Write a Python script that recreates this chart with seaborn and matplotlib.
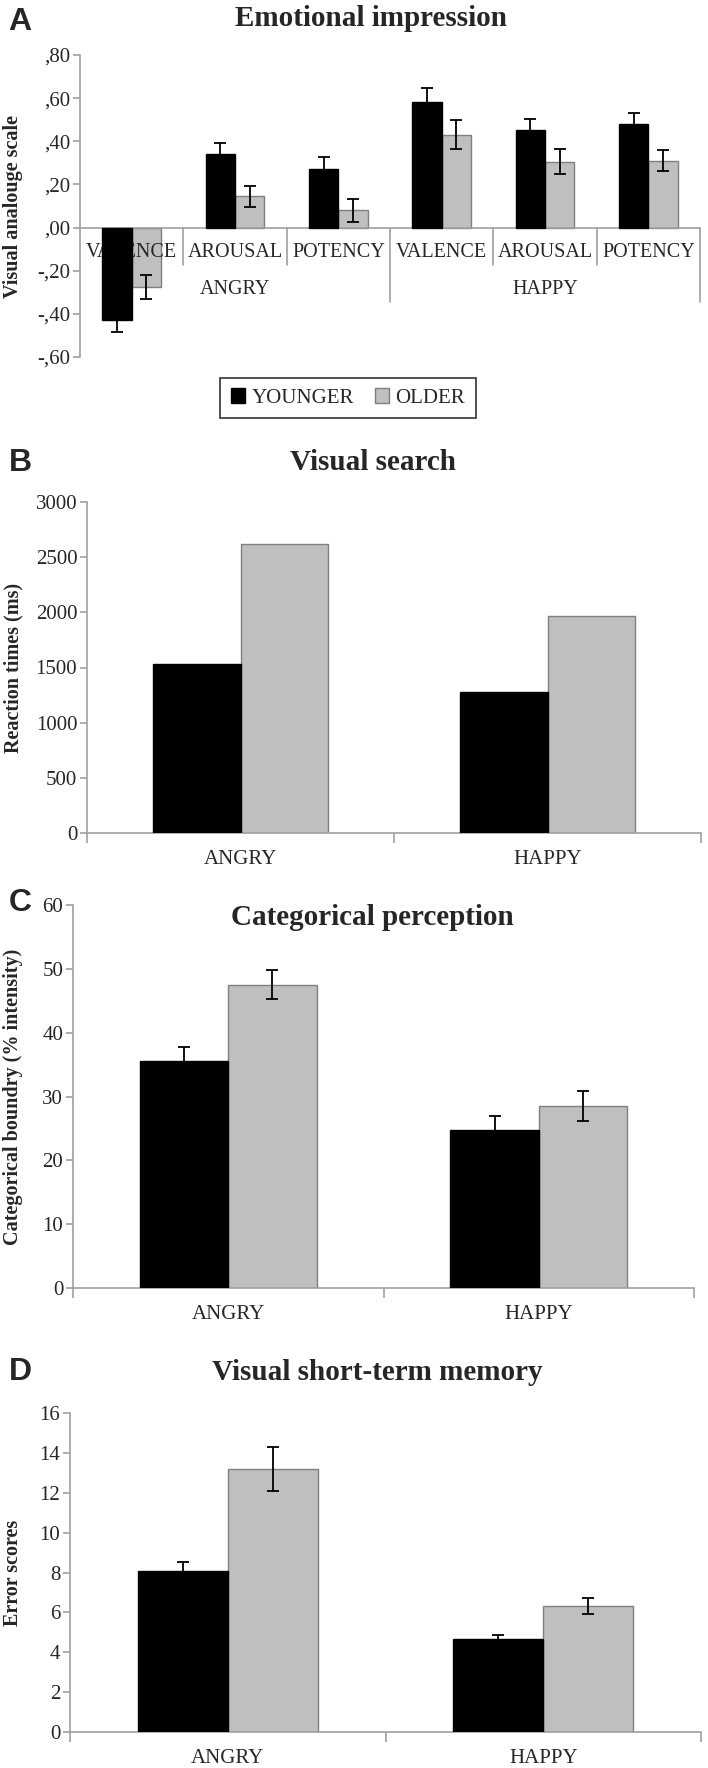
import matplotlib
matplotlib.use('Agg')
import matplotlib.pyplot as plt
from matplotlib.patches import Patch
from matplotlib.ticker import FuncFormatter
import numpy as np
import pandas as pd
import seaborn as sns

sns.set_theme(style='white')
plt.rcParams.update({'font.family': ['Liberation Serif', 'DejaVu Serif'],
                     'font.size': 15,
                     'axes.linewidth': 1.2,
                     'axes.edgecolor': '#a0a0a0'})

groups = ['YOUNGER', 'OLDER']
emotions = ['ANGRY', 'HAPPY']
scales = ['VALENCE', 'AROUSAL', 'POTENCY']

# A: emotional impression (visual analogue scale), ANGRY x3 then HAPPY x3
vas_younger = [-0.43, 0.34, 0.27, 0.58, 0.45, 0.48]
vas_older = [-0.275, 0.145, 0.08, 0.43, 0.305, 0.31]
vas_younger_err = [0.055, 0.05, 0.055, 0.065, 0.055, 0.05]
vas_older_err = [0.055, 0.05, 0.053, 0.067, 0.058, 0.05]

# B: visual search reaction times (ms)
rt_younger = [1535, 1280]
rt_older = [2620, 1965]

# C: categorical boundary (% intensity)
cp_younger = [35.6, 24.7]
cp_older = [47.5, 28.5]
cp_younger_err = [2.2, 2.3]
cp_older_err = [2.25, 2.4]

# D: visual short-term memory error scores
stm_younger = [8.1, 4.65]
stm_older = [13.2, 6.3]
stm_younger_err = [0.45, 0.2]
stm_older_err = [1.1, 0.4]

colors = {'YOUNGER': 'black', 'OLDER': '#bfbfbf'}
edges = {'YOUNGER': 'black', 'OLDER': '#808080'}
axis_gray = '#a0a0a0'

W, H = 708, 1768
fig = plt.figure(figsize=(W / 100, H / 100), dpi=100)


def px_axes(x0, x1, y0, y1):
    return fig.add_axes([x0 / W, 1 - y1 / H, (x1 - x0) / W, (y1 - y0) / H])


def fig_text(x, y, s, **kw):
    fig.text(x / W, 1 - y / H, s, ha='center', va='center', **kw)


def draw_bars(ax, cats, younger, older, err_y=None, err_o=None):
    n = len(cats)
    df = pd.DataFrame({'cat': cats * 2,
                       'group': ['YOUNGER'] * n + ['OLDER'] * n,
                       'value': list(younger) + list(older)})
    sns.barplot(data=df, x='cat', y='value', hue='group', order=cats,
                hue_order=groups, palette=colors, width=0.57, errorbar=None,
                saturation=1, legend=False, ax=ax)
    errs = [err_y, err_o]
    for cont, g, e in zip(ax.containers, groups, errs):
        xs, hs = [], []
        for bar in cont:
            bar.set_edgecolor(edges[g])
            bar.set_linewidth(1.0)
            bar.set_zorder(3 if g == 'YOUNGER' else 2)
            xs.append(bar.get_x() + bar.get_width() / 2)
            hs.append(bar.get_height())
        if e is not None:
            ax.errorbar(xs, hs, yerr=e, fmt='none', ecolor='black',
                        elinewidth=1.3, capsize=4, capthick=1.3, zorder=5)


def style_axes(ax, ymin, ymax, step, ylabel, x0, x1):
    ax.set_ylim(ymin, ymax)
    ax.set_yticks(np.arange(ymin, ymax + step / 2, step))
    for s in ['top', 'right']:
        ax.spines[s].set_visible(False)
    ax.spines['left'].set_color(axis_gray)
    ax.spines['bottom'].set_color(axis_gray)
    ax.tick_params(axis='y', left=True, length=5, width=1.2, color=axis_gray,
                   labelsize=15, pad=2)
    ax.set_xlabel('')
    ax.set_ylabel(ylabel, fontsize=14.5, fontweight='bold')
    ax.yaxis.label.set_verticalalignment('center')
    ax.yaxis.set_label_coords((13 - x0) / (x1 - x0), 0.5)
    ax.grid(False)


def simple_panel(ax, younger, older, ey, eo, ymax, step, ylabel, x0, x1):
    draw_bars(ax, emotions, younger, older, ey, eo)
    style_axes(ax, 0, ymax, step, ylabel, x0, x1)
    ax.set_xlim(-0.5, 1.5)
    ax.set_xticks([0, 1])
    ax.set_xticklabels(emotions)
    ax.set_xticks([-0.5, 0.5, 1.5], minor=True)
    ax.tick_params(axis='x', which='major', length=0, labelsize=15, pad=12)
    ax.tick_params(axis='x', which='minor', bottom=True, length=7, width=1.2,
                   color=axis_gray)


# ---- A
axA = px_axes(80, 700, 55, 357)
catsA = [f'{e}-{s}' for e in emotions for s in scales]
draw_bars(axA, catsA, vas_younger, vas_older, vas_younger_err, vas_older_err)
style_axes(axA, -0.6, 0.8, 0.2, 'Visual analouge scale', 80, 700)
axA.set_xlim(-0.5, 5.5)
axA.spines['bottom'].set_position(('data', 0))
axA.set_xticks([])
axA.yaxis.set_major_formatter(FuncFormatter(
    lambda v, p: f'{round(v, 2) + 0.0:.2f}'.replace('0.', ',', 1)))
for i, c in enumerate(catsA):
    axA.text(i, -0.116, c.split('-')[1], ha='center', va='center',
             fontsize=14.5, zorder=2.5)
for i, e in enumerate(emotions):
    axA.text(1 + 3 * i, -0.288, e, ha='center', va='center', fontsize=14.5)
for xs in [0.5, 1.5, 3.5, 4.5]:
    axA.plot([xs, xs], [0, -0.172], color=axis_gray, lw=1.2, zorder=1)
for xs in [2.5, 5.5]:
    axA.plot([xs, xs], [0, -0.343], color=axis_gray, lw=1.2, zorder=1,
             clip_on=False)
fig_text(371, 19, 'Emotional impression', fontsize=21, fontweight='bold')
fig_text(20, 22, 'A', fontsize=23, fontweight='bold', family='Liberation Sans')

leg = fig.legend(handles=[Patch(facecolor='black', edgecolor='black', label='YOUNGER'),
                          Patch(facecolor='#bfbfbf', edgecolor='#808080', label='OLDER')],
                 loc='center', bbox_to_anchor=(348 / W, 1 - 398 / H), ncol=2,
                 frameon=True, fancybox=False, edgecolor='black', fontsize=15,
                 handlelength=0.7, handleheight=0.7, handletextpad=0.3,
                 columnspacing=1.0, borderpad=0.5)
leg.get_frame().set_linewidth(1.2)

# ---- B
axB = px_axes(87, 701, 502, 833)
simple_panel(axB, rt_younger, rt_older, None, None, 3000, 500,
             'Reaction times (ms)', 87, 701)
fig_text(373, 462, 'Visual search', fontsize=21, fontweight='bold')
fig_text(20, 463, 'B', fontsize=23, fontweight='bold', family='Liberation Sans')

# ---- C
axC = px_axes(73, 694, 905, 1288)
simple_panel(axC, cp_younger, cp_older, cp_younger_err, cp_older_err, 60, 10,
             'Categorical boundry (% intensity)', 73, 694)
fig_text(372, 917, 'Categorical perception', fontsize=21, fontweight='bold')
fig_text(20, 903, 'C', fontsize=23, fontweight='bold', family='Liberation Sans')

# ---- D
axD = px_axes(70, 701, 1413, 1732)
simple_panel(axD, stm_younger, stm_older, stm_younger_err, stm_older_err, 16, 2,
             'Error scores', 70, 701)
fig_text(377, 1372, 'Visual short-term memory', fontsize=21, fontweight='bold')
fig_text(20, 1372, 'D', fontsize=23, fontweight='bold', family='Liberation Sans')

fig.savefig('out.png', dpi=100, facecolor='white')
